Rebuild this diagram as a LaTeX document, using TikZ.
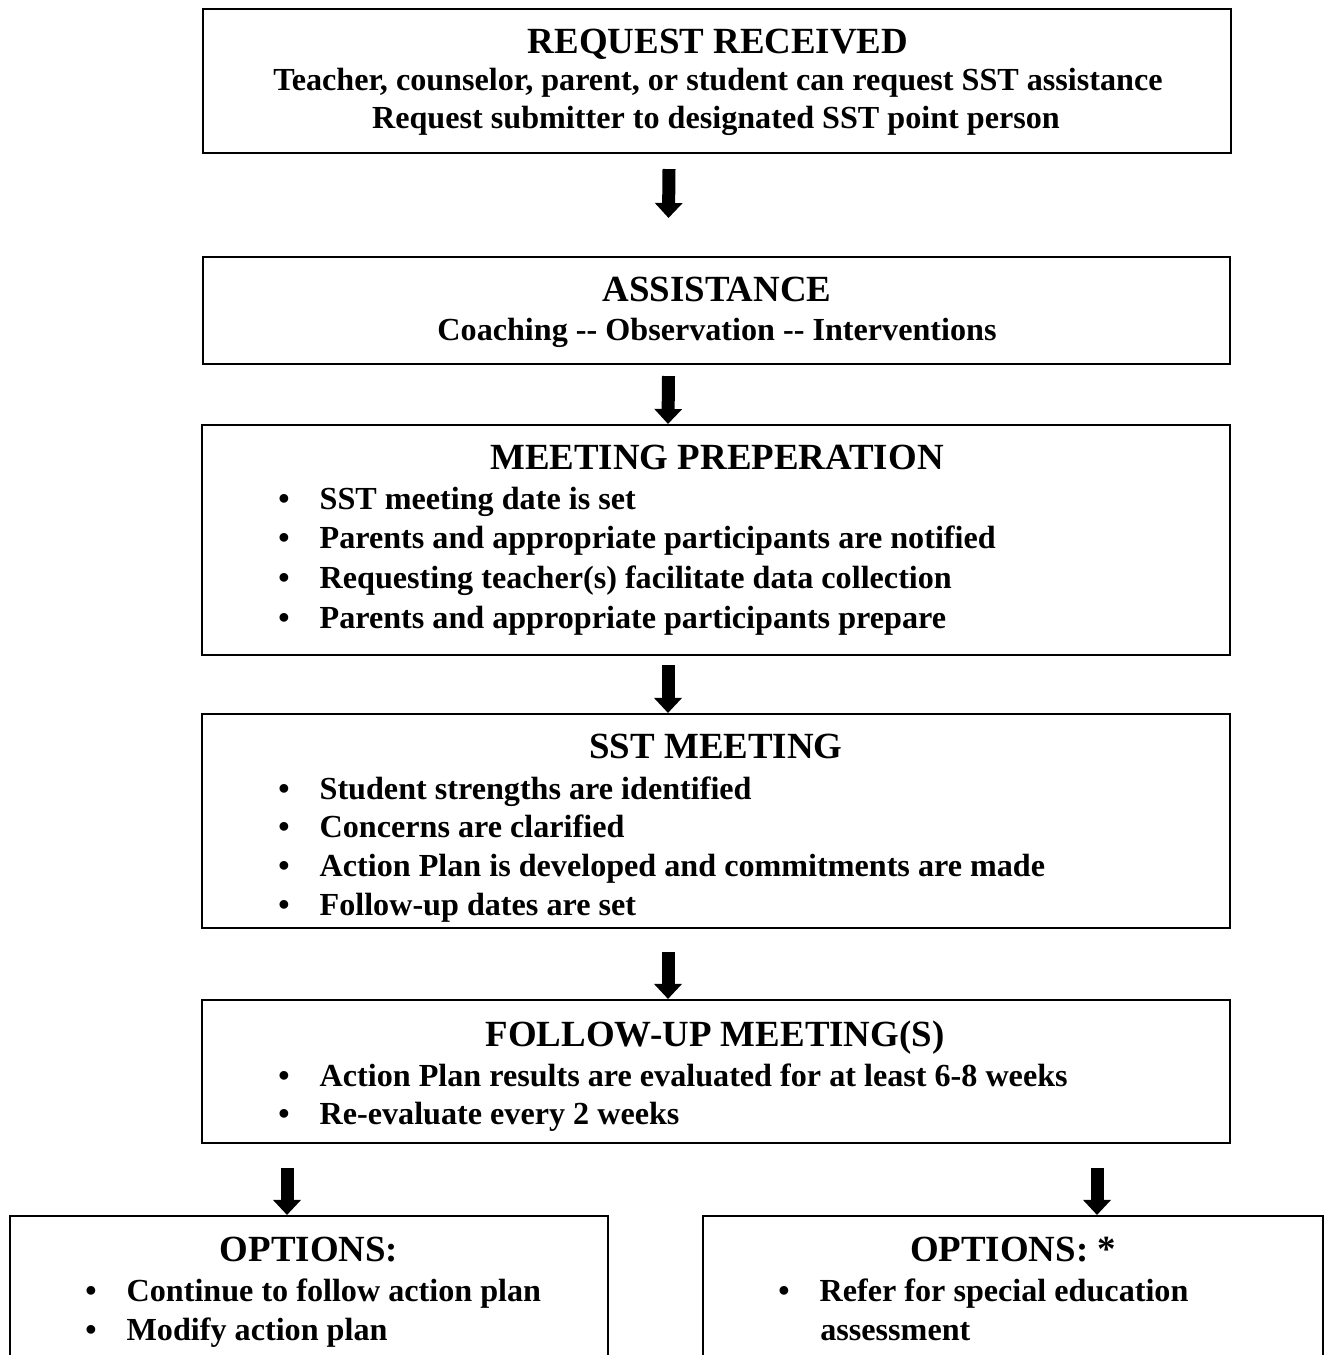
\documentclass[tikz,border=0pt]{standalone}
\usepackage{fontspec}
\setmainfont{Liberation Serif}
\usetikzlibrary{calc,positioning,arrows.meta}
\newcommand{\bul}{\makebox[23.5pt][l]{\textbullet}}
\tikzset{
  stage/.style={rectangle, draw=black, line width=1.2pt, inner sep=0pt},
  head/.style={font=\fontsize{21}{25}\selectfont\bfseries, anchor=base, inner sep=0pt},
  txt/.style={font=\fontsize{18.3}{22}\selectfont\bfseries, anchor=base, inner sep=0pt},
  itm/.style={font=\fontsize{18.3}{22}\selectfont\bfseries, anchor=base west, inner sep=0pt},
  bigarrow/.style={draw, line width=0.26cm, -{Triangle[width=0.54cm,length=0.3cm]}},
}

\begin{document}
\begin{tikzpicture}[x=0.02cm,y=-0.02cm]
  \useasboundingbox (0,0) rectangle (1325,1355);
  \clip (0,0) rectangle (1325,1355);

  % boxes
  \node[stage, minimum width=20.56cm, minimum height=2.88cm] (req) at (717,81) {};
  \node[stage, minimum width=20.54cm, minimum height=2.14cm] (ast) at (716.5,310.5) {};
  \node[stage, minimum width=20.56cm, minimum height=4.6cm] (prep) at (716,540) {};
  \node[stage, minimum width=20.56cm, minimum height=4.28cm] (meet) at (716,821) {};
  \node[stage, minimum width=20.56cm, minimum height=2.86cm] (fup) at (716,1071.5) {};
  \node[stage, minimum width=11.96cm, minimum height=3.68cm] (optl) at (309,1308) {};
  \node[stage, minimum width=12.4cm, minimum height=3.68cm] (optr) at (1013,1308) {};

  % request
  \node[head] (req-t) at (718,54) {REQUEST RECEIVED};
  \node[txt] (req-1) at (718,91) {Teacher, counselor, parent, or student can request SST assistance};
  \node[txt] (req-2) at (716,129) {Request submitter to designated SST point person};

  % assistance
  \node[head] (ast-t) at (717,301) {ASSISTANCE};
  \node[txt] (ast-1) at (717,340) {Coaching {-}{-} Observation {-}{-} Interventions};

  % meeting preperation
  \node[head] (prep-t) at (717,469) {MEETING PREPERATION};
  \foreach \line [count=\i from 0] in {SST meeting date is set,
      Parents and appropriate participants are notified,
      Requesting teacher(s) facilitate data collection,
      Parents and appropriate participants prepare}
    \node[itm] (prep-\i) at (278,509+39.7*\i) {\bul\line};

  % sst meeting
  \node[head] (meet-t) at (716,758) {SST MEETING};
  \foreach \line [count=\i from 0] in {Student strengths are identified,
      Concerns are clarified,
      Action Plan is developed and commitments are made,
      Follow-up dates are set}
    \node[itm] (meet-\i) at (278,799+38.7*\i) {\bul\line};

  % follow-up
  \node[head] (fup-t) at (715,1046) {FOLLOW-UP MEETING(S)};
  \node[itm] (fup-0) at (278,1086) {\bul Action Plan results are evaluated for at least 6-8 weeks};
  \node[itm] (fup-1) at (278,1124) {\bul Re-evaluate every 2 weeks};

  % options
  \node[head] (optl-t) at (309,1261) {OPTIONS:};
  \node[itm] (optl-0) at (85,1301) {\bul Continue to follow action plan};
  \node[itm] (optl-1) at (85,1340) {\bul Modify action plan};

  \node[head] (optr-t) at (1013,1261) {OPTIONS: *};
  \node[itm] (optr-0) at (778,1301) {\bul Refer for special education};
  \node[itm] (optr-1) at (820,1340) {assessment};

  % arrows
  \path[bigarrow] ($(req.south)+(-48,15)$) -- ($(ast.north)+(-48,-38)$);
  \path[bigarrow] ($(ast.south)+(-48,11)$) -- ($(prep.north)+(-48,0)$);
  \path[bigarrow] ($(prep.south)+(-48,9)$) -- ($(meet.north)+(-48,0)$);
  \path[bigarrow] ($(meet.south)+(-48,23)$) -- ($(fup.north)+(-48,0)$);
  \path[bigarrow] ($(fup.south)+(-429,24)$) -- ($(optl.north)+(-22,0)$);
  \path[bigarrow] ($(fup.south)+(381,24)$) -- ($(optr.north)+(84,0)$);
\end{tikzpicture}
\end{document}
